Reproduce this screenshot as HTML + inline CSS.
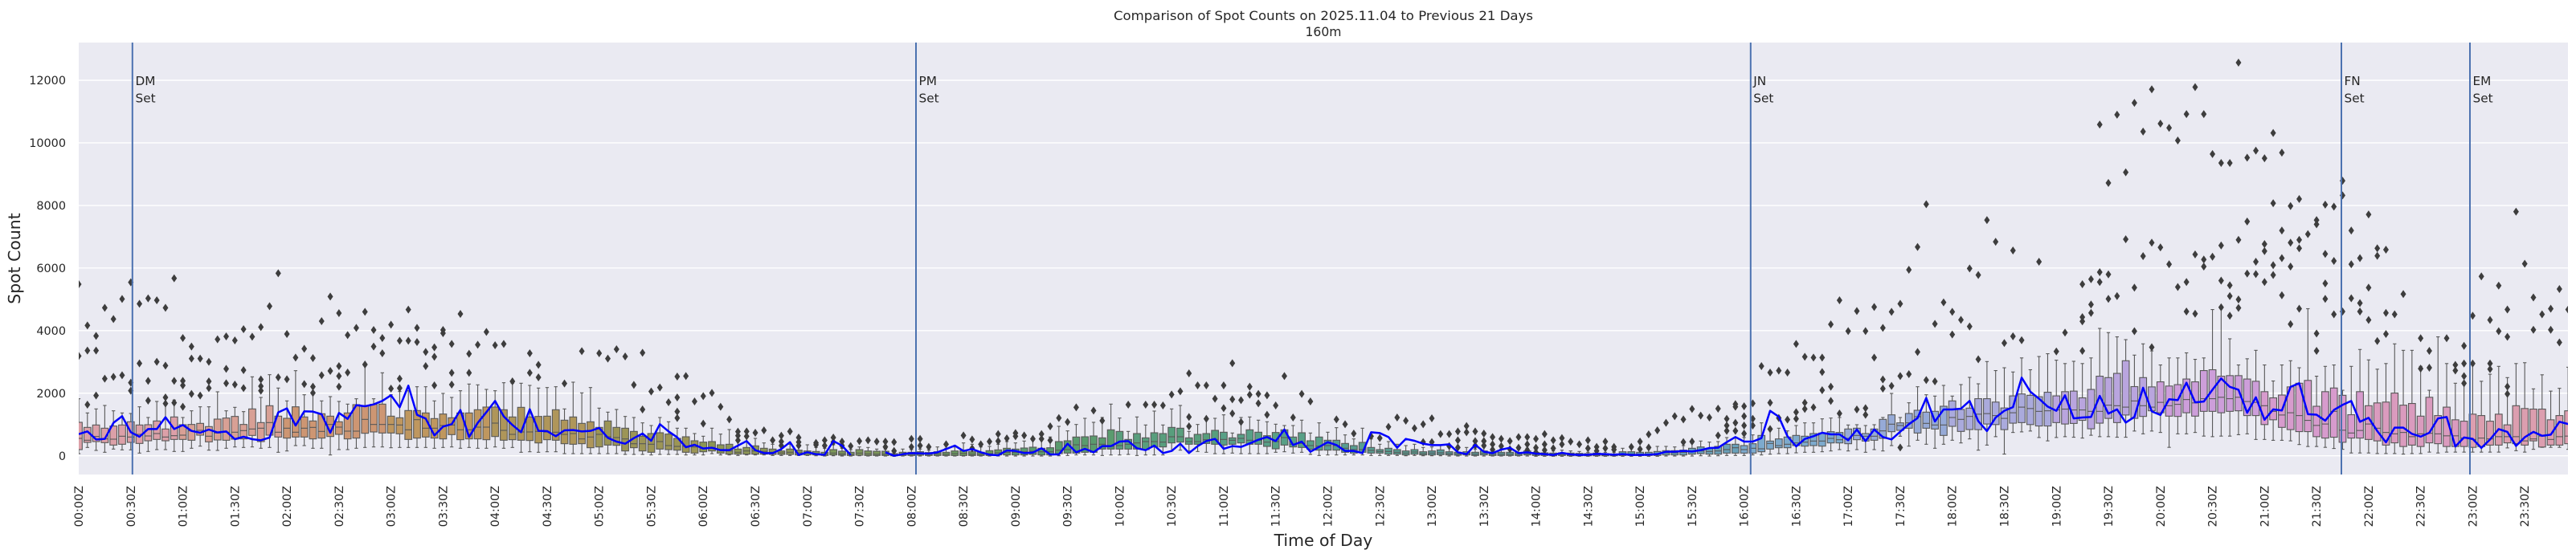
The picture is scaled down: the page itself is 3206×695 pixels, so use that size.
<!DOCTYPE html>
<html><head><meta charset="utf-8">
<style>
html,body{margin:0;padding:0;background:#fff;}
svg{display:block;}
text{font-family:"DejaVu Sans","Liberation Sans",sans-serif;fill:#262626;}
</style></head><body>
<svg id="c" width="3206" height="695" viewBox="0 0 3206 695" xmlns="http://www.w3.org/2000/svg">
<defs><clipPath id="pc"><rect x="98" y="53" width="3098" height="538"/></clipPath></defs>
<rect x="98" y="53" width="3098" height="538" fill="#eaeaf2"/>
<g stroke="#ffffff" stroke-width="1.4">
<line x1="98" x2="3196" y1="567.7" y2="567.7"/>
<line x1="98" x2="3196" y1="489.75" y2="489.75"/>
<line x1="98" x2="3196" y1="411.8" y2="411.8"/>
<line x1="98" x2="3196" y1="333.85" y2="333.85"/>
<line x1="98" x2="3196" y1="255.9" y2="255.9"/>
<line x1="98" x2="3196" y1="177.95" y2="177.95"/>
<line x1="98" x2="3196" y1="100" y2="100"/>
</g>
<g id="plot" clip-path="url(#pc)"></g>
<g id="vl" stroke="#4c72b0" stroke-width="2">
<line x1="164.8" x2="164.8" y1="53" y2="591"/>
<line x1="1140" x2="1140" y1="53" y2="591"/>
<line x1="2178.8" x2="2178.8" y1="53" y2="591"/>
<line x1="2914" x2="2914" y1="53" y2="591"/>
<line x1="3074" x2="3074" y1="53" y2="591"/>
</g>
<g id="bl" clip-path="url(#pc)"></g>
<g font-size="15.3">
<text x="168.5" y="106">DM</text><text x="168.5" y="127.3">Set</text>
<text x="1143.5" y="106">PM</text><text x="1143.5" y="127.3">Set</text>
<text x="2182.3" y="106">JN</text><text x="2182.3" y="127.3">Set</text>
<text x="2917.5" y="106">FN</text><text x="2917.5" y="127.3">Set</text>
<text x="3077.5" y="106">EM</text><text x="3077.5" y="127.3">Set</text>
</g>
<g font-size="14.4" text-anchor="end">
<text x="82" y="572.9">0</text>
<text x="82" y="494.95">2000</text>
<text x="82" y="417">4000</text>
<text x="82" y="339.05">6000</text>
<text x="82" y="261.1">8000</text>
<text x="82" y="183.15">10000</text>
<text x="82" y="105.2">12000</text>
</g>
<g font-size="14.4" text-anchor="end">
<text transform="translate(103.0,605) rotate(-90)">00:00Z</text>
<text transform="translate(167.8,605) rotate(-90)">00:30Z</text>
<text transform="translate(232.5,605) rotate(-90)">01:00Z</text>
<text transform="translate(297.3,605) rotate(-90)">01:30Z</text>
<text transform="translate(362.1,605) rotate(-90)">02:00Z</text>
<text transform="translate(426.9,605) rotate(-90)">02:30Z</text>
<text transform="translate(491.6,605) rotate(-90)">03:00Z</text>
<text transform="translate(556.4,605) rotate(-90)">03:30Z</text>
<text transform="translate(621.2,605) rotate(-90)">04:00Z</text>
<text transform="translate(685.9,605) rotate(-90)">04:30Z</text>
<text transform="translate(750.7,605) rotate(-90)">05:00Z</text>
<text transform="translate(815.5,605) rotate(-90)">05:30Z</text>
<text transform="translate(880.2,605) rotate(-90)">06:00Z</text>
<text transform="translate(945.0,605) rotate(-90)">06:30Z</text>
<text transform="translate(1009.8,605) rotate(-90)">07:00Z</text>
<text transform="translate(1074.6,605) rotate(-90)">07:30Z</text>
<text transform="translate(1139.3,605) rotate(-90)">08:00Z</text>
<text transform="translate(1204.1,605) rotate(-90)">08:30Z</text>
<text transform="translate(1268.9,605) rotate(-90)">09:00Z</text>
<text transform="translate(1333.6,605) rotate(-90)">09:30Z</text>
<text transform="translate(1398.4,605) rotate(-90)">10:00Z</text>
<text transform="translate(1463.2,605) rotate(-90)">10:30Z</text>
<text transform="translate(1527.9,605) rotate(-90)">11:00Z</text>
<text transform="translate(1592.7,605) rotate(-90)">11:30Z</text>
<text transform="translate(1657.5,605) rotate(-90)">12:00Z</text>
<text transform="translate(1722.3,605) rotate(-90)">12:30Z</text>
<text transform="translate(1787.0,605) rotate(-90)">13:00Z</text>
<text transform="translate(1851.8,605) rotate(-90)">13:30Z</text>
<text transform="translate(1916.6,605) rotate(-90)">14:00Z</text>
<text transform="translate(1981.3,605) rotate(-90)">14:30Z</text>
<text transform="translate(2046.1,605) rotate(-90)">15:00Z</text>
<text transform="translate(2110.9,605) rotate(-90)">15:30Z</text>
<text transform="translate(2175.6,605) rotate(-90)">16:00Z</text>
<text transform="translate(2240.4,605) rotate(-90)">16:30Z</text>
<text transform="translate(2305.2,605) rotate(-90)">17:00Z</text>
<text transform="translate(2369.9,605) rotate(-90)">17:30Z</text>
<text transform="translate(2434.7,605) rotate(-90)">18:00Z</text>
<text transform="translate(2499.5,605) rotate(-90)">18:30Z</text>
<text transform="translate(2564.3,605) rotate(-90)">19:00Z</text>
<text transform="translate(2629.0,605) rotate(-90)">19:30Z</text>
<text transform="translate(2693.8,605) rotate(-90)">20:00Z</text>
<text transform="translate(2758.6,605) rotate(-90)">20:30Z</text>
<text transform="translate(2823.3,605) rotate(-90)">21:00Z</text>
<text transform="translate(2888.1,605) rotate(-90)">21:30Z</text>
<text transform="translate(2952.9,605) rotate(-90)">22:00Z</text>
<text transform="translate(3017.6,605) rotate(-90)">22:30Z</text>
<text transform="translate(3082.4,605) rotate(-90)">23:00Z</text>
<text transform="translate(3147.2,605) rotate(-90)">23:30Z</text>
</g>
<text x="1647" y="680" font-size="20.4" text-anchor="middle">Time of Day</text>
<text transform="translate(25,322) rotate(-90)" font-size="20.4" text-anchor="middle">Spot Count</text>
<text x="1647" y="25" font-size="15.6" text-anchor="middle" textLength="522" lengthAdjust="spacingAndGlyphs">Comparison of Spot Counts on 2025.11.04 to Previous 21 Days</text>
<text x="1647" y="45" font-size="15.6" text-anchor="middle">160m</text>
</svg>
<script>
(function(){
var H=["#dca0a8","#d8a095","#cd9673","#bf975f","#af965a","#9c9556","#8c9655","#7d9858","#699b5f","#5a9b6e","#589e7d","#58a087","#589e91","#589b9b","#5c9ba5","#69a0b9","#7daacd","#96aad7","#aaaadc","#b9a5de","#cd9eda","#d79bcd","#da9bbe","#dc9eaf"];
var BA=[[678,780,738,590,795],[697,753,745,643,772],[688,750,731,628,783],[700,754,740,615,790],[692,763,741,635,778],[688,760,730,643,781],[676,753,733,645,781],[688,757,723,620,793],[687,747,729,660,787],[673,742,720,600,780],[703,747,733,610,780],[658,742,728,595,787],[687,742,726,660,787],[686,745,710,635,775],[682,726,708,620,767],[694,751,730,620,782],[666,744,718,564,783],[662,745,715,635,775],[656,741,715,622,770],[686,740,709,638,772],[628,727,703,508,770],[679,750,700,585,775],[616,726,679,500,772],[655,733,715,550,790],[663,737,700,598,785],
[620,733,715,485,765],[658,733,700,575,765],[673,740,697,540,775],[646,737,712,598,775],[655,731,686,582,800],[676,723,696,600,780],[643,740,711,610,780],[612,737,711,590,775],[616,719,667,465,772],[611,714,686,590,770],[610,718,686,493,770],[655,718,686,575,773],[661,721,688,563,772],[634,742,706,560,772],[634,737,668,545,772],[643,733,700,545,772],[664,737,700,598,775],[647,740,690,570,772],[661,724,688,585,770],[643,743,706,560,775],[643,740,706,535,772],[631,740,696,538,775],[621,743,696,555,775],[621,731,681,560,770],[631,745,708,530,775],[658,743,723,532,772],[622,745,714,532,790],[658,746,714,540,788],[656,755,712,550,790],[655,743,714,548,788],[631,745,715,545,788],[670,758,723,628,795],[658,760,720,528,795],[682,758,740,568,795],[676,773,733,548,795],[697,770,723,625,795],[673,763,732,640,795],[697,764,735,630,795],[700,785,740,656,798],[712,773,758,660,798],[730,785,758,680,798],[720,790,760,690,800],[717,778,750,660,798],[722,780,765,676,798],[738,782,768,700,798],[732,790,768,700,800],[747,793,770,720,800],[752,788,775,730,800],
[750,785,772,700,795],[762,793,780,722,800],[760,797,785,705,800],[778,797,790,730,802],[772,797,785,735,800],[766,797,785,738,800],[775,797,787,755,800],[778,798,790,760,802],[785,798,792,765,802],[778,798,790,760,802],[782,800,792,768,802],[785,800,793,762,802],[787,800,795,772,803],[790,802,797,775,804],[780,800,793,762,803],[786,801,796,775,804],[790,802,798,780,804],[780,801,793,770,803],[785,802,796,772,804],[786,802,797,778,804],[786,802,797,778,804],[795,803,800,790,805],[790,802,797,778,804],[790,802,797,780,804],[788,801,796,778,804],[791,802,797,782,804],[788,802,796,770,804],[790,802,797,775,804],[785,802,795,770,804],[784,802,794,755,804],[788,802,797,760,804],[790,802,797,770,804],[784,802,795,768,804],[781,800,792,760,804],[775,800,790,750,804],[778,800,791,755,804],[774,800,788,748,804],[771,798,786,745,804],[775,800,788,740,804],[773,800,788,733,804],[750,795,782,693,803],[747,793,780,710,802],[733,793,762,686,800],[732,790,765,663,800],[729,790,760,678,800],[736,778,760,660,802],[706,778,768,610,800],[712,778,765,662,800],[742,778,760,712,798],[720,778,755,658,802],[736,780,750,688,800],[717,770,750,636,800],[720,770,752,688,800],[697,755,732,628,785],[700,752,732,615,782],[736,760,750,712,785],[723,760,750,686,787],[720,757,743,665,790],[708,760,742,663,795],[715,763,742,650,795],[736,760,745,718,793],[723,755,738,660,795],[706,760,745,658,795],[715,760,745,670,795],[728,768,752,676,795],[716,777,750,685,790],[706,763,735,690,788],[733,770,760,690,793],[717,772,757,670,790],[747,778,765,718,798],[733,782,767,680,802],[745,782,765,715,800],[745,782,765,698,800],
[757,790,775,725,800],[765,793,780,740,800],[753,790,780,700,800],[772,793,783,740,802],[780,793,787,760,802],[775,797,787,750,802],[780,797,790,760,802],[785,800,793,765,803],[780,797,789,760,802],[788,800,795,772,803],[785,800,793,770,803],[781,799,792,765,803],[788,800,795,770,804],[790,801,796,775,804],[788,800,795,772,804],[790,802,797,778,804],[785,800,794,770,804],[790,802,797,778,804],[790,802,797,778,804],[790,802,797,780,804],[791,802,797,780,804],[785,800,795,775,804],[791,802,797,780,805],[792,802,798,783,805],[793,803,799,785,805],[792,802,798,782,805],[793,803,799,785,805],[794,803,800,787,805],[795,803,800,790,805],[793,803,800,787,805],[795,803,800,790,805],[796,803,801,790,805],[788,802,797,775,805],[788,802,797,775,805],[790,802,797,778,805],[790,802,797,778,805],[787,802,795,768,805],[784,800,792,768,804],[784,800,792,770,804],[782,800,790,765,804],[775,797,787,755,804],[770,795,785,748,803],[775,797,787,752,804],[768,797,785,750,803],[760,793,780,735,802],[760,793,773,737,802],[765,793,780,735,802],[758,793,775,725,800],[727,788,777,680,800],[748,778,757,705,797],[740,773,765,700,795],[733,773,760,710,795],[727,765,755,690,792],[730,767,752,680,790],[720,765,748,680,790],[718,767,748,665,788],[713,755,738,662,785],[716,755,743,660,780],[703,758,738,688,785],[700,743,727,687,780],[720,748,730,690,790],[703,745,730,687,780],[667,738,710,660,785],[650,713,685,570,765],[680,708,690,660,730],[645,700,680,605,767],[633,718,657,545,745],[640,700,682,575,760],[637,703,688,580,775],[618,727,688,540,760],[598,693,660,580,745],[630,712,667,537,755],[625,705,656,510,740]];
var BD=[[1275,1385,1330,1222,1458],[1275,1365,1328,1143,1440],[1287,1367,1335,1175,1410],[1308,1385,1345,1165,1472],[1265,1362,1325,1180,1395],[1258,1360,1305,1130,1393],[1263,1367,1310,1172,1390],[1268,1372,1320,1125,1413],[1252,1372,1318,1115,1425],[1265,1360,1315,1138,1413],[1250,1365,1312,1150,1410],[1248,1363,1315,1142,1412],[1272,1352,1315,1150,1415],[1242,1382,1320,1130,1405],[1195,1362,1320,1025,1410],[1200,1345,1298,1040,1410],[1185,1360,1300,1055,1412],[1140,1333,1305,1065,1412],[1232,1345,1283,1120,1390],[1200,1338,1300,1080,1400],[1233,1318,1305,1105,1390],[1215,1325,1288,1155,1395],[1230,1337,1300,1130,1448],[1225,1338,1295,1130,1400],[1205,1325,1278,1112,1400],[1215,1337,1290,1135,1395],[1175,1320,1275,1130,1408],[1172,1320,1275,958,1410],[1195,1325,1270,955,1408],[1193,1320,1275,1062,1408],[1193,1318,1270,1155,1403],[1205,1335,1285,1133,1400],[1213,1335,1288,1103,1420],[1250,1367,1300,1155,1420],[1272,1350,1320,1212,1423],[1262,1377,1333,1155,1423],[1233,1385,1325,1140,1425],[1220,1392,1335,1165,1438],[1210,1392,1352,955,1445],[1302,1410,1370,1195,1445],[1250,1415,1365,1160,1448],[1237,1412,1320,1155,1452],[1263,1430,1387,1245,1455],[1332,1415,1397,1160,1468],[1250,1415,1388,1100,1468],[1300,1420,1365,1137,1468],[1290,1425,1380,1170,1470],[1287,1440,1395,1150,1470],[1255,1432,1400,1080,1470],[1298,1445,1395,1103,1472],[1292,1440,1410,1103,1470],[1337,1445,1400,1160,1470],[1270,1432,1398,1245,1465],[1335,1435,1400,1055,1468],[1305,1445,1407,1150,1465],[1350,1445,1407,1220,1465],[1355,1445,1415,1220,1465],[1330,1448,1420,1150,1465],[1335,1445,1415,1213,1465],[1355,1440,1418,1188,1465],[1330,1440,1410,1160,1465],[1368,1432,1410,1200,1450],[1300,1435,1410,1150,1460],[1310,1440,1425,1147,1465],[1312,1425,1418,1240,1455],[1312,1447,1408,1190,1448],[1350,1440,1420,1248,1448],[1335,1440,1410,1238,1448],[1318,1435,1408,1163,1455]];
var LA=[722,712,742,740,680,655,715,732,703,703,659,703,688,710,717,705,716,712,741,732,741,745,735,641,626,690,637,638,648,717,643,665,614,618,611,598,577,622,541,650,664,727,694,685,632,733,680,640,598,656,688,715,629,710,711,730,708,707,712,710,699,736,750,758,737,720,747,685,712,734,771,762,776,
773,782,782,765,748,782,793,793,778,752,800,790,797,799,748,765,800,null,null,null,790,803,797,793,794,795,790,778,765,785,778,790,799,801,783,785,793,791,775,798,798,758,790,777,790,767,767,750,748,775,782,765,793,785,758,793,767,748,740,777,767,770,757,743,733,748,705,763,750,788,770,752,763,
785,785,793,715,718,733,773,740,747,758,763,763,760,790,797,762,788,793,780,773,793,790,795,797,800,792,798,800,799,796,797,799,797,800,800,799,797,788,788,785,787,782,774,773,752,733,750,750,737,635,657,730,768,740,730,717,723,723,745,705,748,705,733,742,713,685,662,587,675,630,630,627,598];
var LD=[1355,1390,1342,1318,1305,1200,1250,1275,1303,1318,1263,1345,1342,1340,1265,1328,1313,1360,1340,1236,1320,1333,1277,1280,1218,1288,1285,1243,1203,1233,1243,1325,1270,1350,1313,1317,1233,1220,1330,1332,1353,1315,1297,1283,1357,1343,1390,1430,1378,1378,1400,1410,1396,1345,1340,1445,1413,1418,1450,1420,1383,1393,1443,1412,1393,1407,1403,1357,1365];
var OA=[[0,162],[0,430],[1,316],[1,410],[1,612],[2,355],[2,410],[2,578],[3,250],[3,515],[4,292],[4,508],[5,217],[5,502],[6,155],[6,530],[6,560],[7,235],[7,458],[8,215],[8,523],[8,597],[9,222],[9,452],[10,250],[10,466],[10,585],[10,608],[11,140],[11,523],[11,605],[12,363],[12,523],[12,540],[12,620],[13,395],[13,440],[13,572],[14,440],[14,578],[15,452],[15,525],[15,550],[16,368],[17,357],[17,478],[17,532],[18,372],[18,537],[19,330],[19,483],[19,550],[20,358],[21,322],[21,518],[21,543],[21,560],[22,244],[23,121],[23,510],[24,348],[24,517],[25,436],[26,403],[26,535],[27,438],[27,545],[27,568],[28,300],[28,502],[29,208],[29,486],[30,270],[30,468],[30,505],[30,545],[31,352],[31,492],[32,325],[33,265],[33,462],[34,333],[34,395],[35,363],[35,420],[36,313],[36,552],[37,373],[37,515],[37,550],[38,257],[38,373],[39,325],[39,378],[40,415],[40,468],[41,398],[41,433],[41,540],[42,333],[42,345],[43,385],[43,493],[43,537],[44,273],[45,422],[45,493],[46,388],[47,340],[48,390],[49,385],[50,525],[52,420],[52,493],[53,463],[53,510],[56,533],[58,412],[60,420],[61,440],[62,405],[63,432],[64,538],[65,418],[65,630],[66,563],[67,548],[68,603],[69,507],[69,585],[69,638],[69,662],[70,505],[71,600],[72,580],[72,683],
[73,568],[74,620],[75,667],[76,713],[76,728],[76,745],[77,712],[77,730],[78,717],[79,708],[80,745],[81,728],[81,750],[81,765],[82,712],[83,735],[83,752],[83,765],[85,755],[85,762],[86,745],[86,765],[87,735],[87,752],[88,750],[88,765],[89,767],[90,748],[91,745],[92,750],[93,750],[93,770],[94,752],[94,785],[96,740],[96,770],[97,740],[97,765],[98,770],[100,760],[102,727],[103,742],[103,775],[104,760],[105,750],[106,722],[106,748],[107,738],[108,718],[108,730],[109,727],[110,740],[111,722],[111,740],[112,693],[112,745],[113,662],[114,677],[115,622],[117,634],[118,672],[121,612],[123,612],[124,612],[125,615],[126,574],[127,562],[128,495],[128,658],[128,693],[129,540],[130,540],[130,665],[131,590],[132,540],[132,625],[133,457],[133,592],[133,645],[134,595],[134,677],[135,545],[135,575],[136,572],[136,607],[137,577],[137,650],[138,615],[139,505],[140,660],[141,572],[142,600],[145,667],
[146,685],[147,720],[149,730],[150,737],[151,695],[152,660],[153,672],[154,700],[155,685],[155,752],[156,663],[156,752],[157,722],[158,722],[158,767],[159,712],[159,745],[159,772],[160,692],[160,715],[161,712],[161,748],[161,765],[162,720],[162,748],[162,765],[163,733],[163,760],[163,780],[164,740],[164,767],[165,748],[165,778],[166,733],[166,773],[167,733],[167,760],[167,782],[168,740],[168,773],[168,790],[169,722],[169,760],[169,782],[170,745],[170,775],[171,737],[171,760],[172,750],[173,760],[174,745],[174,775],[175,770],[175,785],[176,750],[176,775],[177,770],[177,780],[179,770],[180,750],[180,778],[181,723],[181,772],[182,708],[183,680],[184,655],[185,667],[185,752],[186,628],[186,750],[187,653],[188,660],[189,627],[189,727],[190,665],[190,690],[190,710],[191,610],[191,620],[191,680],[191,710],[192,618],[192,655],[192,690],[192,720],[193,607],[193,665],[193,690],[194,468],[195,492],[195,605],[195,703],[196,485],[196,662],[197,492],[197,668],[198,385],[198,640],[198,665],[199,433],[199,605],[199,628],[200,436],[200,622],[201,436],[201,490],[201,558],[202,312],[202,545],[202,598],[203,222],[203,645],[204,337],[205,262],[205,630],[206,337],[206,625],[206,650],[207,247],[207,436],[208,325],[208,518],[208,552],[209,265],[209,542],[210,235],[210,505],[210,772],[211,108],[211,498],[212,23],[212,415],[213,520],[213,-137],[214,310],[214,525],[215,230],[216,265],[216,350],[217,295],[218,103],[218,320]];
var OD=[[219,1135],[219,835],[220,640],[221,717],[222,1077],[223,748],[223,1053],[224,1067],[226,788],[228,1107],[229,1040],[231,1105],[231,1000],[231,985],[231,868],[232,970],[232,940],[232,850],[233,300],[233,825],[233,860],[234,508],[234,833],[234,920],[235,265],[235,910],[236,470],[236,708],[237,223],[237,880],[237,1035],[238,325],[238,768],[239,175],[239,720],[239,1092],[240,297],[240,737],[241,312],[241,797],[242,357],[242,878],[243,263],[243,860],[243,965],[244,167],[244,762],[244,973],[245,263],[245,780],[245,805],[246,405],[246,770],[247,437],[247,730],[247,855],[247,950],[248,437],[248,872],[248,910],[248,980],[249,80],[249,710],[249,922],[249,952],[250,418],[250,645],[250,830],[251,393],[251,788],[251,832],[252,420],[252,725],[252,750],[252,860],[253,330],[253,580],[253,800],[253,835],[254,400],[254,677],[254,775],[254,907],[255,590],[255,720],[255,805],[255,1010],[256,565],[256,710],[256,740],[256,955],[257,690],[258,640],[258,655],[258,1043],[258,1105],[259,585],[259,760],[259,865],[259,920],[260,592],[260,785],[260,975],[261,500],[261,552],[261,965],[262,677],[262,797],[262,918],[263,775],[263,935],[263,965],[264,620],[264,880],[264,995],[265,740],[265,767],[265,1070],[266,745],[266,970],[266,1045],[267,975],[268,903],[270,1060],[270,1168],[271,1105],[271,1165],[273,1060],[274,1155],[274,1175],[275,1087],[275,1150],[275,1195],[275,1220],[276,980],[276,1150],[277,840],[278,995],[278,1150],[278,1170],[279,873],[279,1035],[280,958],[280,1055],[280,1232],[280,1258],[281,610],[282,795],[283,915],[283,1030],[284,975],[285,955],[285,1030],[286,885],[286,1075],[287,958]];
function y3(v){return 300+v/3;}
function y12(v){return 50+v/2.855;}
function X(i){return 98+10.795*i;}
function f(n){return n.toFixed(2);}
var s='';
var hw=4.32,cw=2.16,ec='#585858';
for(var i=0;i<288;i++){
  var b=i<219?BA[i]:BD[i-219];var fy=i<219?y3:y12;
  var cx=X(i);var t=fy(b[0]),bo=fy(b[1]),m=fy(b[2]),wt=fy(b[3]),wb=fy(b[4]);
  var col=H[Math.floor(i/12)];
  s+='<line x1="'+f(cx)+'" x2="'+f(cx)+'" y1="'+f(wt)+'" y2="'+f(t)+'" stroke="'+ec+'" stroke-width="1.1"/>';
  s+='<line x1="'+f(cx)+'" x2="'+f(cx)+'" y1="'+f(bo)+'" y2="'+f(wb)+'" stroke="'+ec+'" stroke-width="1.1"/>';
  s+='<line x1="'+f(cx-cw)+'" x2="'+f(cx+cw)+'" y1="'+f(wt)+'" y2="'+f(wt)+'" stroke="'+ec+'" stroke-width="1.1"/>';
  s+='<line x1="'+f(cx-cw)+'" x2="'+f(cx+cw)+'" y1="'+f(wb)+'" y2="'+f(wb)+'" stroke="'+ec+'" stroke-width="1.1"/>';
  s+='<rect x="'+f(cx-hw)+'" y="'+f(t)+'" width="8.64" height="'+f(Math.max(bo-t,0.5))+'" fill="'+col+'" stroke="'+ec+'" stroke-width="1.1"/>';
  s+='<line x1="'+f(cx-hw)+'" x2="'+f(cx+hw)+'" y1="'+f(m)+'" y2="'+f(m)+'" stroke="'+ec+'" stroke-width="1.1"/>';
}
function dia(cx,cy){return '<polygon points="'+f(cx)+','+f(cy-5)+' '+f(cx+3.5)+','+f(cy)+' '+f(cx)+','+f(cy+5)+' '+f(cx-3.5)+','+f(cy)+'" fill="#3d3d3d"/>';}
for(var j=0;j<OA.length;j++){s+=dia(X(OA[j][0]),y3(OA[j][1]));}
for(var j=0;j<OD.length;j++){s+=dia(X(OD[j][0]),y12(OD[j][1]));}
document.getElementById('plot').innerHTML=s;
var d='',pen=false;
for(var i=0;i<288;i++){
  var v=i<219?LA[i]:LD[i-219];
  if(v===null||v===undefined){pen=false;continue;}
  var yy=i<219?y3(v):y12(v);
  d+=(pen?'L':'M')+f(X(i))+','+f(yy)+' ';pen=true;
}
document.getElementById('bl').innerHTML='<path d="'+d+'" fill="none" stroke="#0000ff" stroke-width="2.5" stroke-linejoin="round"/>';
})();
</script>
</body></html>
